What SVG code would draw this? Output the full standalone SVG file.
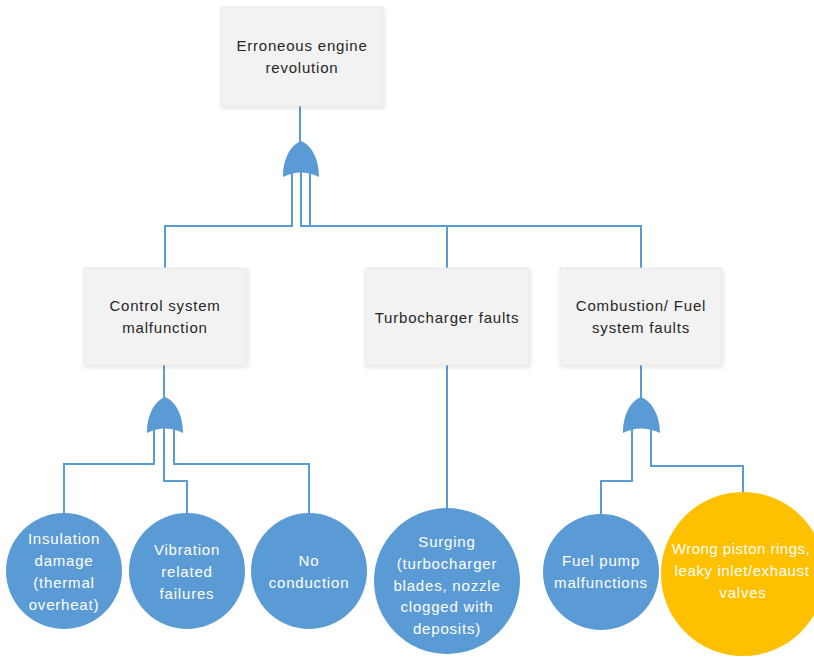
<svg xmlns="http://www.w3.org/2000/svg" width="814" height="658" viewBox="0 0 814 658">
<style>
.box{fill:#f2f2f2;stroke:#e6e6e6;stroke-width:0.8}
.bt{font-family:"Liberation Sans",Arial,sans-serif;font-size:15px;letter-spacing:0.8px;fill:#262626;text-anchor:middle}
.ct{font-family:"Liberation Sans",Arial,sans-serif;font-size:15px;letter-spacing:0.8px;fill:#ffffff;text-anchor:middle}
.blue{fill:#5b9bd5}
.yel{fill:#ffc000}
.ln{fill:none;stroke:#5b9bd5;stroke-width:2}
.gate{fill:#5b9bd5}
</style>
<defs>
<filter id="sh" x="-10%" y="-10%" width="125%" height="130%">
<feDropShadow dx="1" dy="2" stdDeviation="2" flood-color="#000" flood-opacity="0.12"/>
</filter>
</defs>
<g id="connectors">
<path class="ln" d="M300 106 V145"/>
<path class="ln" d="M292 172 V226 H165 V268"/>
<path class="ln" d="M301 172 V226 H447 V268"/>
<path class="ln" d="M310 172 V226 H641 V268"/>
<path class="ln" d="M164 365 V402"/>
<path class="ln" d="M154 428 V464 H64 V513"/>
<path class="ln" d="M164 428 V481 H187 V513"/>
<path class="ln" d="M174 428 V464 H309 V513"/>
<path class="ln" d="M447 365 V508"/>
<path class="ln" d="M641 365 V402"/>
<path class="ln" d="M632 428 V481 H601 V514"/>
<path class="ln" d="M651 428 V466 H743 V492"/>
</g>
<g id="gate1"><path class="gate" d="M301 141 C313 146 319 161 319 177 Q301 168 283 177 C283 161 289 146 301 141 Z"/></g>
<g id="gate2"><path class="gate" d="M165 397 C177 402 183 417 183 433 Q165 424 147 433 C147 417 153 402 165 397 Z"/></g>
<g id="gate3"><path class="gate" d="M641 397 C653 402 660 417 660 433 Q641 424 623 433 C623 417 629 402 641 397 Z"/></g>
<g id="top">
<rect class="box" filter="url(#sh)" x="221" y="7" width="162" height="99"/>
<text class="bt" x="302" y="51">Erroneous engine</text>
<text class="bt" x="302" y="73">revolution</text>
</g>
<g id="control">
<rect class="box" filter="url(#sh)" x="84" y="268" width="163" height="97"/>
<text class="bt" x="165" y="311">Control system</text>
<text class="bt" x="165" y="333">malfunction</text>
</g>
<g id="turbo">
<rect class="box" filter="url(#sh)" x="365" y="268" width="164" height="97"/>
<text class="bt" x="447" y="323">Turbocharger faults</text>
</g>
<g id="combustion">
<rect class="box" filter="url(#sh)" x="560" y="268" width="162" height="97"/>
<text class="bt" x="641" y="311">Combustion/ Fuel</text>
<text class="bt" x="641" y="333">system faults</text>
</g>
<g id="insulation">
<circle class="blue" cx="64" cy="571" r="58"/>
<text class="ct" x="64" y="544">Insulation</text>
<text class="ct" x="64" y="566">damage</text>
<text class="ct" x="64" y="588">(thermal</text>
<text class="ct" x="64" y="610">overheat)</text>
</g>
<g id="vibration">
<circle class="blue" cx="187" cy="571" r="58"/>
<text class="ct" x="187" y="555">Vibration</text>
<text class="ct" x="187" y="577">related</text>
<text class="ct" x="187" y="599">failures</text>
</g>
<g id="noconduction">
<circle class="blue" cx="309" cy="571" r="58"/>
<text class="ct" x="309" y="566">No</text>
<text class="ct" x="309" y="588">conduction</text>
</g>
<g id="surging">
<circle class="blue" cx="447" cy="581" r="73"/>
<text class="ct" x="447" y="547">Surging</text>
<text class="ct" x="447" y="569">(turbocharger</text>
<text class="ct" x="447" y="591">blades, nozzle</text>
<text class="ct" x="447" y="612">clogged with</text>
<text class="ct" x="447" y="634">deposits)</text>
</g>
<g id="fuelpump">
<circle class="blue" cx="601" cy="572" r="58"/>
<text class="ct" x="601" y="566">Fuel pump</text>
<text class="ct" x="601" y="588">malfunctions</text>
</g>
<g id="piston">
<circle class="yel" cx="743" cy="574" r="82"/>
<text class="ct" x="741" y="554" style="letter-spacing:0.5px">Wrong piston rings,</text>
<text class="ct" x="742" y="576" style="letter-spacing:0.6px">leaky inlet/exhaust</text>
<text class="ct" x="743" y="598">valves</text>
</g>
</svg>
